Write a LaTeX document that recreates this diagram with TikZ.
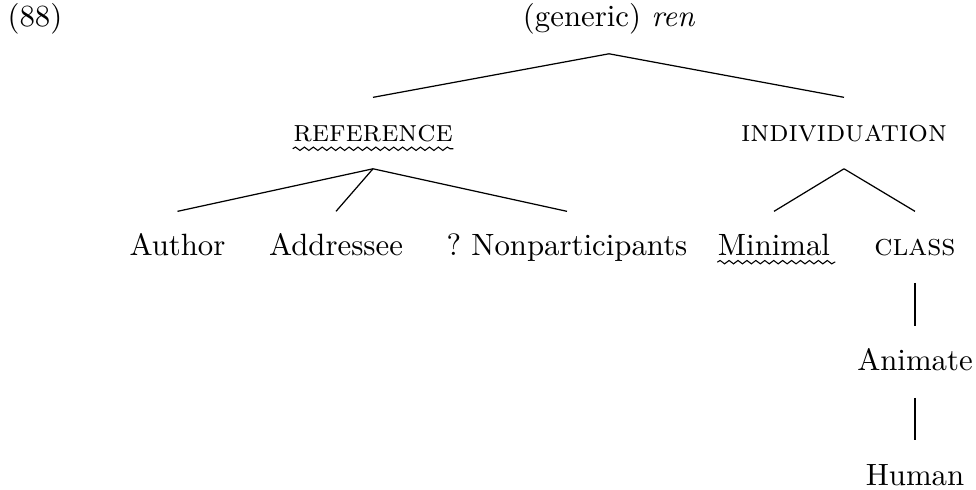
\documentclass[tikz,border=0pt]{standalone}
\usetikzlibrary{decorations.pathmorphing}
\tikzset{
  tnode/.style={anchor=base, inner sep=0pt, text height=14.3pt, text depth=8.5pt},
  branch/.style={line width=0.4pt},
  wavy/.style={line width=0.35pt, decorate,
    decoration={snake, amplitude=0.55pt, segment length=2.9pt}},
}
\begin{document}
\begin{tikzpicture}[x=0.3247pt, y=-0.3247pt]
  \useasboundingbox (0,0) rectangle (976,490);

  % example number
  \node[anchor=base west, inner sep=0pt] (num) at (7,27) {(88)};

  % root
  \node[tnode] (root) at (609,27) {(generic) \textit{ren}};

  % first level
  \node[tnode] (ref) at (373,142) {\textsc{reference}};
  \node[tnode] (ind) at (844,142) {\textsc{individuation}};

  % second level
  \node[tnode] (aut) at (177.5,256) {Author};
  \node[tnode] (adr) at (336,256) {Addressee};
  \node[tnode] (non) at (567,256) {?\ Nonparticipants};
  \node[tnode] (min) at (774,256) {Minimal};
  \node[tnode] (cls) at (915,256) {\textsc{class}};

  % lower chain
  \node[tnode] (ani) at (915,371) {Animate};
  \node[tnode] (hum) at (915,485) {Human};

  % branches
  \draw[branch] (root.south) -- (ref.north);
  \draw[branch] (root.south) -- (ind.north);
  \draw[branch] (ref.south) -- (aut.north);
  \draw[branch] (ref.south) -- (adr.north);
  \draw[branch] (ref.south) -- (non.north);
  \draw[branch] (ind.south) -- (min.north);
  \draw[branch] (ind.south) -- (cls.north);
  \draw[branch] (cls.south) -- (ani.north);
  \draw[branch] (ani.south) -- (hum.north);

  % wavy underlines marking defaults
  \draw[wavy] ([yshift=-2.2pt]ref.base west) -- ([yshift=-2.2pt]ref.base east);
  \draw[wavy] ([yshift=-2pt]min.base west) -- ([yshift=-2pt,xshift=1.5pt]min.base east);
\end{tikzpicture}
\end{document}
